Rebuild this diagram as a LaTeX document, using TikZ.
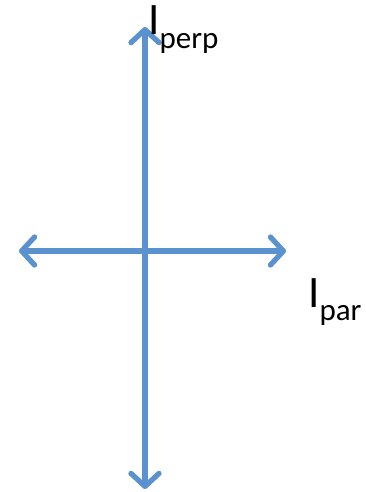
\documentclass[tikz,border=0pt]{standalone}
\usepackage{fontspec}
\setmainfont{Carlito}
\usetikzlibrary{arrows.meta}
\definecolor{axisblue}{HTML}{5A92CF}

\begin{document}
\begin{tikzpicture}[
    x=1pt, y=-1pt,
    ax/.style={{Straight Barb[length=13pt,width=28pt,round]}-{Straight Barb[length=13pt,width=28pt,round]}, line width=5.2pt, axisblue},
    sh/.style={ax, draw=black!30, opacity=0.35},
    lbl/.style={inner sep=0pt, anchor=base west, font=\fontsize{45}{45}\selectfont},
]
  \useasboundingbox (0,0) rectangle (365,492);
  \coordinate (top)   at (145,27);
  \coordinate (bot)   at (145,489);
  \coordinate (left)  at (19,251);
  \coordinate (right) at (286,251);
  % faint shadow first
  \begin{scope}[shift={(1,2)}]
    \draw[sh] (top) -- (bot);
    \draw[sh] (left) -- (right);
  \end{scope}
  \draw[ax] (top) -- (bot);
  \draw[ax] (left) -- (right);
  \node[lbl] (perp) at (148,35) {I\raisebox{-14pt}{\fontsize{31}{31}\selectfont perp}};
  \node[lbl] (par)  at (308,307) {I\raisebox{-13pt}{\fontsize{31}{31}\selectfont par}};
\end{tikzpicture}
\end{document}
